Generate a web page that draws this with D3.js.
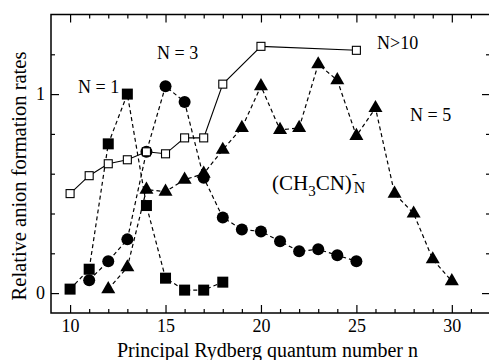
<!DOCTYPE html>
<html>
<head>
<meta charset="utf-8">
<script src="https://cdn.jsdelivr.net/npm/d3@7/dist/d3.min.js"></script>
<style>
  body { margin: 0; background: #fff; }
  svg { display: block; font-family: "Liberation Serif", "Times New Roman", serif; }
  svg text { font-family: "Liberation Serif", "Times New Roman", serif; }
</style>
</head>
<body>
<div id="chart"></div>
<script>
// N = 1 (filled squares)
const n1X = [10, 11, 12, 13, 14, 15, 16, 17, 18];
const n1Y = [0.02, 0.12, 0.75, 1.0, 0.44, 0.075, 0.015, 0.015, 0.055];
// N = 3 (filled circles)
const n3X = [11, 12, 13, 14, 15, 16, 17, 18, 19, 20, 21, 22, 23, 24, 25];
const n3Y = [0.065, 0.16, 0.27, 0.71, 1.04, 0.96, 0.58, 0.38, 0.32, 0.31, 0.26, 0.21, 0.22, 0.19, 0.16];
// N = 5 (filled triangles)
const n5X = [12, 13, 14, 15, 16, 17, 18, 19, 20, 21, 22, 23, 24, 25, 26, 27, 28, 29, 30];
const n5Y = [0.02, 0.13, 0.52, 0.51, 0.57, 0.60, 0.72, 0.83, 1.04, 0.82, 0.83, 1.15, 1.07, 0.79, 0.93, 0.50, 0.40, 0.17, 0.06];
// N > 10 (open squares)
const nbX = [10, 11, 12, 13, 14, 15, 16, 17, 18, 20, 25];
const nbY = [0.50, 0.59, 0.65, 0.67, 0.71, 0.70, 0.78, 0.78, 1.05, 1.24, 1.22];

const xMajor = [10, 15, 20, 25, 30];
const xMinor = d3.range(10, 32).filter(d => xMajor.indexOf(d) < 0);
const yMajor = [0, 1];
const yMinor = [0.2, 0.4, 0.6, 0.8, 1.2];

const zip = (xs, ys) => xs.map((x, i) => ({ n: x, v: ys[i] }));

let width = 489, height = 360;
let svg = d3.select('#chart').append('svg')
  .attr('width', width)
  .attr('height', height);

let x = d3.scaleLinear().domain([9, 32]).range([51, 490]);
let y = d3.scaleLinear().domain([-0.1, 1.4]).range([313, 14.5]);

// axes (ticks pointing inward)
function axis(gen, vals, size, labels) {
  return gen.tickValues(vals).tickSize(size).tickPadding(labels ? 6 : 0)
    .tickFormat(labels ? d3.format('d') : '');
}
let yBot = y.range()[0], yTop = y.range()[1];
let xLeft = x.range()[0], xRight = x.range()[1];

svg.append('g').attr('transform', 'translate(0,' + yBot + ')')
  .call(axis(d3.axisBottom(x), xMajor, -8, true));
svg.append('g').attr('transform', 'translate(0,' + yBot + ')')
  .call(axis(d3.axisBottom(x), xMinor, -4, false));
svg.append('g').attr('transform', 'translate(0,' + yTop + ')')
  .call(axis(d3.axisTop(x), xMajor, -8, false));
svg.append('g').attr('transform', 'translate(0,' + yTop + ')')
  .call(axis(d3.axisTop(x), xMinor, -4, false));
svg.append('g').attr('transform', 'translate(' + xLeft + ',0)')
  .call(axis(d3.axisLeft(y), yMajor, -8, true));
svg.append('g').attr('transform', 'translate(' + xLeft + ',0)')
  .call(axis(d3.axisLeft(y), yMinor, -4, false));
svg.append('g').attr('transform', 'translate(' + xRight + ',0)')
  .call(axis(d3.axisRight(y), yMajor, -8, false));
svg.append('g').attr('transform', 'translate(' + xRight + ',0)')
  .call(axis(d3.axisRight(y), yMinor, -4, false));

svg.selectAll('.domain').remove();
svg.selectAll('g').attr('font-family', 'Liberation Serif').attr('font-size', 18);
svg.selectAll('.tick line').attr('stroke', '#000').attr('stroke-width', 1.2);
svg.selectAll('.tick text').attr('fill', '#000');

svg.append('rect')
  .attr('x', xLeft).attr('y', yTop)
  .attr('width', xRight - xLeft).attr('height', yBot - yTop)
  .attr('fill', 'none').attr('stroke', '#000').attr('stroke-width', 1.5);

// lines
let line = d3.line().x(d => x(d.n)).y(d => y(d.v));
[[n1X, n1Y], [n3X, n3Y], [n5X, n5Y]].forEach(s => {
  svg.append('path').datum(zip(s[0], s[1]))
    .attr('d', line)
    .attr('fill', 'none')
    .attr('stroke', '#000')
    .attr('stroke-width', 1.2)
    .attr('stroke-dasharray', '4,3');
});
svg.append('path').datum(zip(nbX, nbY))
  .attr('d', line)
  .attr('fill', 'none')
  .attr('stroke', '#000')
  .attr('stroke-width', 1.1);

// markers
svg.selectAll('.circ').data(zip(n3X, n3Y)).enter().append('circle')
  .attr('class', 'circ')
  .attr('cx', d => x(d.n)).attr('cy', d => y(d.v))
  .attr('r', 6).attr('fill', '#000');

svg.selectAll('.sq').data(zip(n1X, n1Y)).enter().append('rect')
  .attr('class', 'sq')
  .attr('x', d => x(d.n) - 5.5).attr('y', d => y(d.v) - 5.5)
  .attr('width', 11).attr('height', 11).attr('fill', '#000');

let tri = d3.symbol().type(d3.symbolTriangle).size(85);
svg.selectAll('.tri').data(zip(n5X, n5Y)).enter().append('path')
  .attr('class', 'tri')
  .attr('transform', d => 'translate(' + x(d.n) + ',' + y(d.v) + ')')
  .attr('d', tri).attr('fill', '#000');

svg.selectAll('.osq').data(zip(nbX, nbY)).enter().append('rect')
  .attr('class', 'osq')
  .attr('x', d => x(d.n) - 4).attr('y', d => y(d.v) - 4)
  .attr('width', 8).attr('height', 8)
  .attr('fill', '#fff').attr('stroke', '#000').attr('stroke-width', 1.1);

// annotations
function label(txt, tx, ty, size) {
  svg.append('text').attr('x', tx).attr('y', ty)
    .attr('font-size', size).attr('fill', '#000').text(txt);
}
label('N = 1', 78, 93, 18);
label('N = 3', 157, 59, 18);
label('N>10', 377, 49, 18);
label('N = 5', 410, 121, 18);

let chem = svg.append('text').attr('x', 272).attr('y', 190)
  .attr('font-size', 21).attr('fill', '#000');
chem.append('tspan').text('(CH');
chem.append('tspan').attr('dy', 6).attr('font-size', 15).text('3');
chem.append('tspan').attr('dy', -6).text('CN)');
chem.append('tspan').attr('dy', -12).attr('font-size', 15).text('-');
chem.append('tspan').attr('dy', 15).attr('dx', -3).attr('font-size', 16).text('N');

// axis titles
svg.append('text')
  .attr('x', (xLeft + xRight) / 2 - 3).attr('y', 357)
  .attr('text-anchor', 'middle').attr('font-size', 20).attr('fill', '#000')
  .text('Principal Rydberg quantum number n');
svg.append('text')
  .attr('transform', 'translate(26,176) rotate(-90)')
  .attr('text-anchor', 'middle').attr('font-size', 20.5).attr('fill', '#000')
  .text('Relative anion formation rates');
</script>
</body>
</html>
